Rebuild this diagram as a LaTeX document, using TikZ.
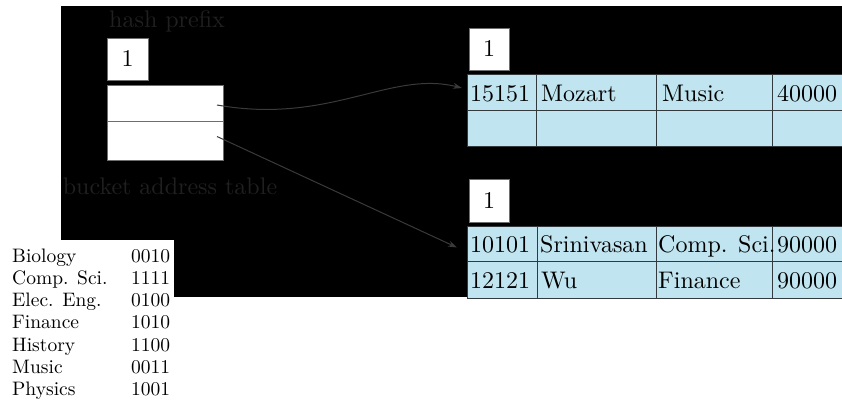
\documentclass[tikz,border=0pt]{standalone}
\usetikzlibrary{arrows.meta}
\definecolor{cellblue}{RGB}{192,229,240}
\definecolor{dimtext}{RGB}{32,32,32}
\definecolor{arrowgray}{RGB}{58,58,58}
\definecolor{cellline}{RGB}{50,58,62}
\definecolor{boxline}{RGB}{110,110,110}
\newcommand{\bigtxt}[1]{\scalebox{2.4}{#1}}
\newcommand{\midtxt}[1]{\scalebox{1.95}{#1}}
\tikzset{
  cell/.style={draw=cellline, line width=1pt, fill=cellblue, anchor=north west, inner sep=0pt, outer sep=0pt},
  whitebox/.style={draw=boxline, fill=white, line width=0.8pt, anchor=north west, inner sep=0pt, outer sep=0pt},
  celltext/.style={anchor=base west, inner sep=0pt},
  dimlabel/.style={text=dimtext, inner sep=0pt},
  lefttext/.style={anchor=base west, inner sep=0pt},
  link/.style={draw=arrowgray, line width=1pt, -{Stealth[length=9pt,width=6pt]}}
}
\begin{document}
\begin{tikzpicture}[x=1pt,y=-1pt]
\useasboundingbox (0,0) rectangle (842,403);
\clip (0,0) rectangle (842,403);
% black background
\fill[black] (61,6) rectangle (850,297);

% hash prefix and directory
\node[dimlabel] (hp) at (167,21) {\bigtxt{hash prefix}};
\node[whitebox, minimum width=41pt, minimum height=42pt] (gd) at (107,38) {};
\node[inner sep=0pt] (gdtext) at (gd.center) {\bigtxt{1}};
\node[whitebox, minimum width=116pt, minimum height=36pt] (bt1) at (107,85) {};
\node[whitebox, minimum width=116pt, minimum height=39pt] (bt2) at (107,121) {};
\node[dimlabel] (bat) at (170,186) {\bigtxt{bucket address table}};

% bucket 1
\node[whitebox, minimum width=40pt, minimum height=42pt] (ld1) at (469,28) {};
\node[inner sep=0pt] (ld1text) at (ld1.center) {\bigtxt{1}};
\node[cell, minimum width=69pt, minimum height=36pt] (a11) at (467,75) {};
\node[cell, minimum width=120pt, minimum height=36pt] (a12) at (536,75) {};
\node[cell, minimum width=116pt, minimum height=36pt] (a13) at (656,75) {};
\node[cell, minimum width=90pt, minimum height=36pt] (a14) at (772,75) {};
\node[cell, minimum width=69pt, minimum height=36pt] (a21) at (467,111) {};
\node[cell, minimum width=120pt, minimum height=36pt] (a22) at (536,111) {};
\node[cell, minimum width=116pt, minimum height=36pt] (a23) at (656,111) {};
\node[cell, minimum width=90pt, minimum height=36pt] (a24) at (772,111) {};
\node[celltext] (ta1) at (470,102) {\bigtxt{15151}};
\node[celltext] (ta2) at (541,102) {\bigtxt{Mozart}};
\node[celltext] (ta3) at (662,102) {\bigtxt{Music}};
\node[celltext] (ta4) at (777,102) {\bigtxt{40000}};

% bucket 2
\node[whitebox, minimum width=40pt, minimum height=43pt] (ld2) at (469,179) {};
\node[inner sep=0pt] (ld2text) at (ld2.center) {\bigtxt{1}};
\node[cell, minimum width=70pt, minimum height=35pt] (b11) at (467,226) {};
\node[cell, minimum width=119pt, minimum height=35pt] (b12) at (537,226) {};
\node[cell, minimum width=116pt, minimum height=35pt] (b13) at (656,226) {};
\node[cell, minimum width=90pt, minimum height=35pt] (b14) at (772,226) {};
\node[cell, minimum width=70pt, minimum height=37pt] (b21) at (467,261) {};
\node[cell, minimum width=119pt, minimum height=37pt] (b22) at (537,261) {};
\node[cell, minimum width=116pt, minimum height=37pt] (b23) at (656,261) {};
\node[cell, minimum width=90pt, minimum height=37pt] (b24) at (772,261) {};
\node[celltext] (tb1) at (470,252) {\bigtxt{10101}};
\node[celltext] (tb2) at (540,252) {\bigtxt{Srinivasan}};
\node[celltext] (tb3) at (658,252) {\bigtxt{Comp. Sci.}};
\node[celltext] (tb4) at (777,252) {\bigtxt{90000}};
\node[celltext] (tc1) at (470,288) {\bigtxt{12121}};
\node[celltext] (tc2) at (541,288) {\bigtxt{Wu}};
\node[celltext] (tc3) at (658,288) {\bigtxt{Finance}};
\node[celltext] (tc4) at (777,288) {\bigtxt{90000}};

% pointers
\draw[link] ([xshift=-6pt,yshift=-2pt]bt1.east) .. controls (330,125) and (390,70) .. ([xshift=-5pt,yshift=5pt]a11.west);
\draw[link] ([xshift=-6pt,yshift=4pt]bt2.east) -- ([xshift=-10pt,yshift=-4pt]b11.west);

% hash value table
\node[fill=white, anchor=north west, minimum width=174pt, minimum height=165pt, inner sep=0pt] (hv) at (0,240) {};
\node[lefttext] (d1) at (12,262) {\midtxt{Biology}};
\node[lefttext] (d2) at (12,284.3) {\midtxt{Comp. Sci.}};
\node[lefttext] (d3) at (12,306.6) {\midtxt{Elec. Eng.}};
\node[lefttext] (d4) at (12,328.9) {\midtxt{Finance}};
\node[lefttext] (d5) at (12,351.2) {\midtxt{History}};
\node[lefttext] (d6) at (12,373.5) {\midtxt{Music}};
\node[lefttext] (d7) at (12,395.8) {\midtxt{Physics}};
\node[lefttext] (h1) at (131,262) {\midtxt{0010}};
\node[lefttext] (h2) at (131,284.3) {\midtxt{1111}};
\node[lefttext] (h3) at (131,306.6) {\midtxt{0100}};
\node[lefttext] (h4) at (131,328.9) {\midtxt{1010}};
\node[lefttext] (h5) at (131,351.2) {\midtxt{1100}};
\node[lefttext] (h6) at (131,373.5) {\midtxt{0011}};
\node[lefttext] (h7) at (131,395.8) {\midtxt{1001}};
\end{tikzpicture}
\end{document}
